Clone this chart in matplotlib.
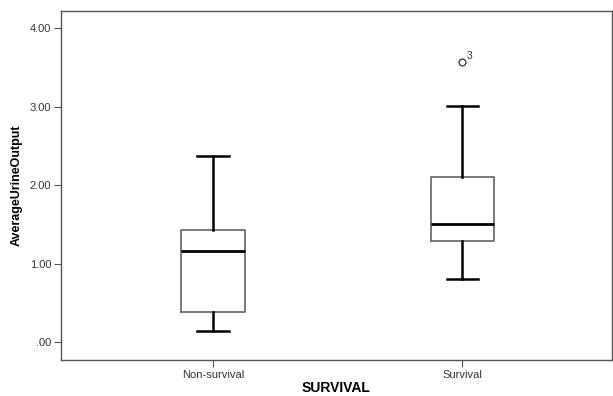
import matplotlib.pyplot as plt

# Summary statistics for each survival group
groups = ['Non-survival', 'Survival']
whislo = [0.14, 0.80]
q1 = [0.38, 1.29]
med = [1.16, 1.50]
q3 = [1.43, 2.11]
whishi = [2.37, 3.01]
fliers = [[], [3.57]]
flier_ids = [[], ['3']]

plt.rcParams['font.family'] = ['Liberation Sans', 'DejaVu Sans']

stats = []
for i in range(len(groups)):
    stats.append({'label': groups[i], 'whislo': whislo[i], 'q1': q1[i],
                  'med': med[i], 'q3': q3[i], 'whishi': whishi[i],
                  'fliers': fliers[i]})

fig = plt.figure(figsize=(6.13, 3.96), dpi=100)
ax = fig.add_axes([0.0995, 0.091, 0.8985, 0.881])

ax.bxp(stats, positions=[0, 1], widths=0.253, showfliers=True,
       boxprops=dict(color='#6e6e6e', linewidth=1.3),
       medianprops=dict(color='black', linewidth=2),
       whiskerprops=dict(color='black', linewidth=1.8),
       capprops=dict(color='black', linewidth=1.8),
       capwidths=0.125,
       flierprops=dict(marker='o', markerfacecolor='none',
                       markeredgecolor='#333333', markersize=5, markeredgewidth=0.9))

# case numbers next to outliers
for i in range(len(groups)):
    for v, lab in zip(fliers[i], flier_ids[i]):
        ax.annotate(lab, (i, v), xytext=(3, 2), textcoords='offset points',
                    fontsize=7.5, color='#333333')

ax.set_xlim(-0.61, 1.60)
ax.set_ylim(-0.23, 4.22)
ax.set_yticks([0, 1, 2, 3, 4])
ax.set_yticklabels(['.00', '1.00', '2.00', '3.00', '4.00'])
ax.tick_params(labelsize=8, color='#555555', labelcolor='#333333', length=5, pad=2)

for s in ax.spines.values():
    s.set_color('#555555')
    s.set_linewidth(1)

ax.set_xlabel('SURVIVAL', fontsize=10, fontweight='bold', labelpad=1)
ax.set_ylabel('AverageUrineOutput', fontsize=9, fontweight='bold', labelpad=5)

plt.savefig('out.png', dpi=100)
